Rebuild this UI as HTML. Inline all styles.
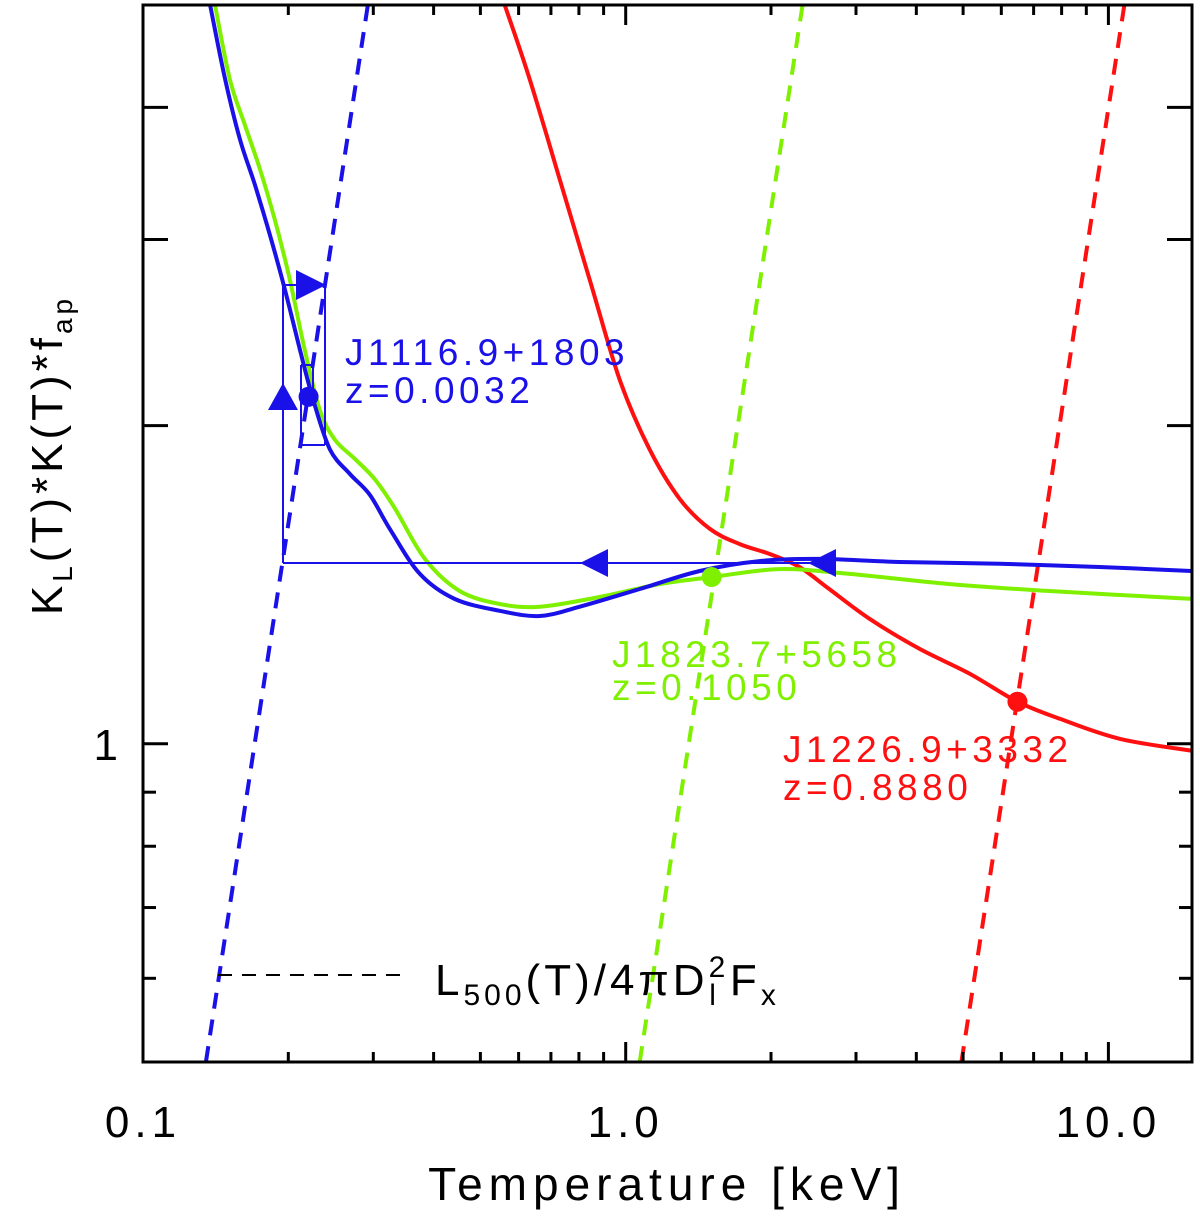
<!DOCTYPE html>
<html><head><meta charset="utf-8"><style>
body{margin:0;background:#fff;}
svg{display:block;font-family:"Liberation Sans",sans-serif;}
</style></head><body>
<svg id="chart" width="1200" height="1220" viewBox="0 0 1200 1220">
<g id="plot"></g>
<text x="667" y="1200" font-size="46" text-anchor="middle" style="letter-spacing:6px">Temperature [keV]</text>
<text transform="translate(62,455) rotate(-90)" font-size="44" text-anchor="middle" style="letter-spacing:4px">K<tspan font-size="28" dy="10">L</tspan><tspan dy="-10">(T)*K(T)*f</tspan><tspan font-size="28" dy="10">ap</tspan></text>
<line x1="218" y1="975" x2="405" y2="975" stroke="#000" stroke-width="2" stroke-dasharray="14,10"/>
<text x="435" y="995" font-size="44" style="letter-spacing:4px">L<tspan font-size="30" dy="10">500</tspan><tspan dy="-10">(T)/4πD</tspan><tspan font-size="30" dy="-18">2</tspan><tspan font-size="30" dx="-20" dy="28">l</tspan><tspan dy="-10" dx="10">F</tspan><tspan font-size="30" dy="10">x</tspan></text>
</svg>
<script>
const blueT=[0.1377,0.148,0.1588,0.1705,0.1832,0.1968,0.2114,0.2249,0.2438,0.2683,0.2951,0.3246,0.3746,0.4426,0.5483,0.6637,0.8035,1.069,1.423,1.893,2.52,3.69,5.95,9.58,14.85];
const blueV=[5.0,4.25,3.73,3.38,3.03,2.69,2.36,2.12,1.90,1.80,1.72,1.597,1.448,1.371,1.336,1.321,1.348,1.401,1.457,1.489,1.496,1.486,1.480,1.470,1.457];
const greenT=[0.141,0.1514,0.1626,0.1746,0.1876,0.2014,0.2163,0.2323,0.2497,0.2748,0.302,0.3326,0.3837,0.453,0.548,0.664,0.883,1.175,1.507,2.08,2.91,4.69,7.55,15];
const greenV=[5.0,4.25,3.85,3.50,3.13,2.75,2.36,2.07,1.94,1.86,1.78,1.67,1.496,1.395,1.356,1.348,1.377,1.416,1.438,1.463,1.448,1.416,1.395,1.371];
const redT=[0.5616,0.633,0.73,0.842,0.972,1.12,1.294,1.494,1.723,1.988,2.29,2.64,3.20,4.06,5.16,6.48,7.93,10.55,14.85];
const redV=[5.0,4.25,3.42,2.75,2.21,1.90,1.705,1.597,1.545,1.512,1.47,1.401,1.313,1.23,1.165,1.096,1.056,1.011,0.985];
const dashLowT=[0.135,1.069,4.96];
const dashHighT=[0.2923,2.325,10.79];
const seriesColors=['#1a10e8','#7ff000','#ff1010'];
const markT=[0.2203,1.507,6.48];
const markV=[2.13,1.438,1.096];
const labelNames=['J1116.9+1803','J1823.7+5658','J1226.9+3332'];
const labelZ=['z=0.0032','z=0.1050','z=0.8880'];
const xTickVals=[0.1,1,10];
const xTickLabels=['0.1','1.0','10.0'];
const yMajor=[1,2,3,4];
const yMinor=[0.6,0.7,0.8,0.9];

const X0=143,X1=1192,Y0=5,Y1=1062;
const xmin=0.1,xmax=14.9,ymin=0.5,ymax=5.0;
function xs(t){return X0+(Math.log10(t)-Math.log10(xmin))/(Math.log10(xmax)-Math.log10(xmin))*(X1-X0);}
function ys(v){return Y1-(Math.log10(v)-Math.log10(ymin))/(Math.log10(ymax)-Math.log10(ymin))*(Y1-Y0);}
const NS='http://www.w3.org/2000/svg';
const svg=document.getElementById('chart');
const plot=document.getElementById('plot');
function mk(tag,attrs,parent){const e=document.createElementNS(NS,tag);for(const k in attrs)e.setAttribute(k,attrs[k]);(parent||svg).appendChild(e);return e;}
const defs=mk('defs',{});
const cp=mk('clipPath',{id:'clip'},defs);
mk('rect',{x:X0,y:Y0,width:X1-X0,height:Y1-Y0},cp);
plot.setAttribute('clip-path','url(#clip)');

const dashNames=['blue-dashed-line','green-dashed-line','red-dashed-line'];
for(let i=0;i<3;i++){
 const l=mk('line',{x1:xs(dashLowT[i]),y1:ys(ymin),x2:xs(dashHighT[i]),y2:ys(ymax),stroke:seriesColors[i],'stroke-width':4,'stroke-dasharray':'16,11'},plot);
 
 
}
function curve(T,V,c,name){
 const P=T.map((t,i)=>[xs(t),ys(V[i])]);
 let d='M'+P[0][0].toFixed(1)+','+P[0][1].toFixed(1);
 for(let i=0;i<P.length-1;i++){
  const p0=P[Math.max(0,i-1)],p1=P[i],p2=P[i+1],p3=P[Math.min(P.length-1,i+2)];
  const c1=[p1[0]+(p2[0]-p0[0])/6,p1[1]+(p2[1]-p0[1])/6];
  const c2=[p2[0]-(p3[0]-p1[0])/6,p2[1]-(p3[1]-p1[1])/6];
  d+='C'+c1[0].toFixed(1)+','+c1[1].toFixed(1)+' '+c2[0].toFixed(1)+','+c2[1].toFixed(1)+' '+p2[0].toFixed(1)+','+p2[1].toFixed(1);
 }
 const p=mk('path',{d:d,fill:'none',stroke:c,'stroke-width':4,'stroke-linejoin':'round'},plot);
 
 
}
curve(redT,redV,seriesColors[2],'red-curve');
curve(greenT,greenV,seriesColors[1],'green-curve');
curve(blueT,blueV,seriesColors[0],'blue-curve');

const b=seriesColors[0];
const segs=[[283,285,283,563],[283,285,310,285],[325,285,325,445],[301,445,325,445],[301,365,301,445],[301,365,313,365],[313,365,313,400],[283,563,825,563]];
segs.forEach(s=>{const l=mk('line',{x1:s[0],y1:s[1],x2:s[2],y2:s[3],stroke:b,'stroke-width':2},plot);
 
 });
const tris=[[283,383,268,410,298,410],[326,285,296,270,296,300],[580,563,608,549,608,577],[808,563,836,549,836,577]];
tris.forEach(t=>{const p=mk('polygon',{points:t.join(','),fill:b},plot);
 
 });

for(let i=0;i<3;i++){
 const c=mk('circle',{cx:xs(markT[i]),cy:ys(markV[i]),r:10,fill:seriesColors[i]},plot);
 
 
}
const lblPos=[[345,365,403],[612,667,700],[783,762,800]];
for(let i=0;i<3;i++){
 const t1=mk('text',{x:lblPos[i][0],y:lblPos[i][1],fill:seriesColors[i],'font-size':37,'letter-spacing':'4.5px'},plot);t1.textContent=labelNames[i];
 
 
 const t2=mk('text',{x:lblPos[i][0],y:lblPos[i][2],fill:seriesColors[i],'font-size':37,'letter-spacing':'4.5px'},plot);t2.textContent=labelZ[i];
 
 
}
const fr=mk('rect',{x:X0,y:Y0,width:X1-X0,height:Y1-Y0,fill:'none',stroke:'#000','stroke-width':3});


yMajor.forEach(v=>{const y=ys(v);
 mk('line',{x1:X0,y1:y,x2:X0+25,y2:y,stroke:'#000','stroke-width':3});
 mk('line',{x1:X1-25,y1:y,x2:X1,y2:y,stroke:'#000','stroke-width':3});});
yMinor.forEach(v=>{const y=ys(v);
 mk('line',{x1:X0,y1:y,x2:X0+13,y2:y,stroke:'#000','stroke-width':3});
 mk('line',{x1:X1-13,y1:y,x2:X1,y2:y,stroke:'#000','stroke-width':3});});
const y1l=mk('text',{x:118,y:ys(1)+16,'font-size':44,'text-anchor':'end'});y1l.textContent='1';


for(let d=0.1;d<15;d*=10){for(let k=1;k<10;k++){const t=d*k;if(t>xmax)break;const x=xs(t);const L=k==1?20:10;
 mk('line',{x1:x,y1:Y1,x2:x,y2:Y1-L,stroke:'#000','stroke-width':3});
 mk('line',{x1:x,y1:Y0,x2:x,y2:Y0+L,stroke:'#000','stroke-width':3});}}
xTickVals.forEach((v,i)=>{const t=mk('text',{x:xs(v),y:1137,'font-size':44,'text-anchor':'middle','letter-spacing':'5px'});t.textContent=xTickLabels[i];
 
 });
</script>
</body></html>
